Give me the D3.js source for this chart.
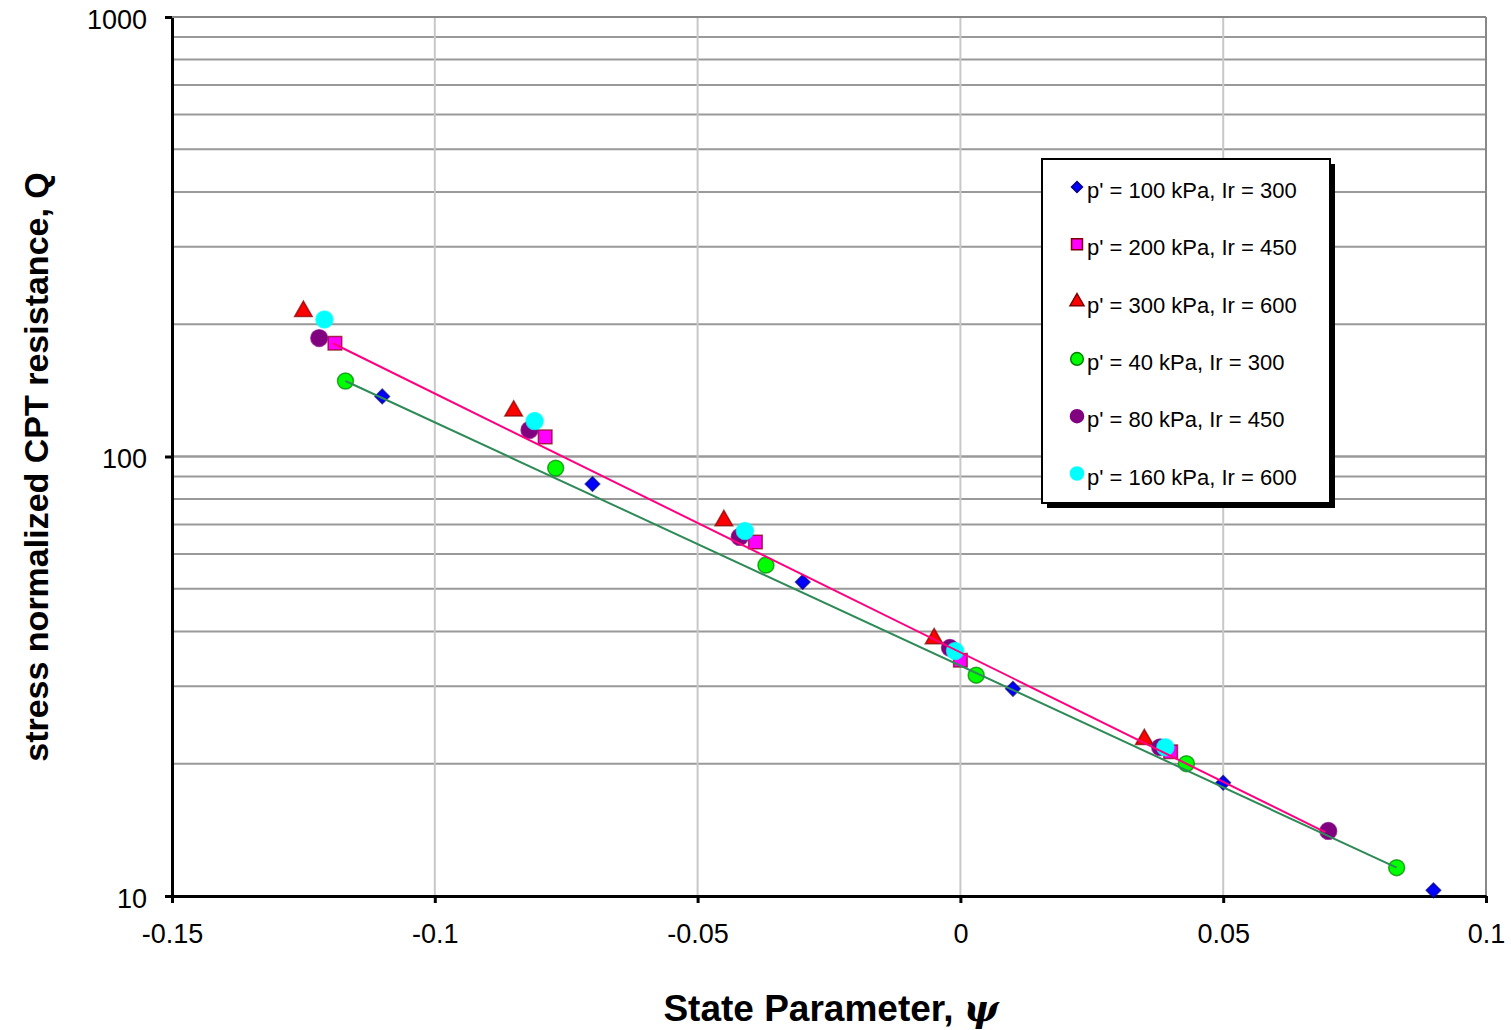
<!DOCTYPE html>
<html>
<head>
<meta charset="utf-8">
<script src="https://cdn.jsdelivr.net/npm/d3@7"></script>
<style>
  body { margin: 0; background: #fff; }
  text { font-family: "Liberation Sans", Arial, sans-serif; }
</style>
</head>
<body>
<div class="chart-container"></div>
<script>
// 各系列資料 (psi, Q)
const psi_100_300 = [-0.11, -0.07, -0.03, 0.01, 0.05, 0.09];
const q_100_300 = [137, 86.6, 51.8, 29.6, 18.1, 10.3];

const psi_200_450 = [-0.119, -0.079, -0.039, 0.0, 0.04];
const q_200_450 = [181, 110.8, 63.9, 34.4, 21.3];

const psi_300_600 = [-0.125, -0.085, -0.045, -0.005, 0.035];
const q_300_600 = [214, 127, 71.5, 38.5, 22.7];

const psi_40_300 = [-0.117, -0.077, -0.037, 0.003, 0.043, 0.083];
const q_40_300 = [148.5, 94.1, 56.6, 31.8, 20.0, 11.6];

const psi_80_450 = [-0.122, -0.082, -0.042, -0.002, 0.038, 0.07];
const q_80_450 = [186, 114.9, 65.6, 36.7, 21.8, 14.06];

const psi_160_600 = [-0.121, -0.081, -0.041, -0.001, 0.039];
const q_160_600 = [205, 120.4, 67.7, 36.1, 21.8];

// 趨勢線端點 (對數軸上為直線)
const trendPinkPsi = [-0.1194, 0.0694];
const trendPinkQ = [181, 13.98];
const trendGreenPsi = [-0.117, 0.083];
const trendGreenQ = [148.5, 11.6];

const seriesNames = [
  "p' = 100 kPa, Ir = 300",
  "p' = 200 kPa, Ir = 450",
  "p' = 300 kPa, Ir = 600",
  "p' = 40 kPa, Ir = 300",
  "p' = 80 kPa, Ir = 450",
  "p' = 160 kPa, Ir = 600"
];

const xTicks = [-0.15, -0.1, -0.05, 0, 0.05, 0.1];
const yTicks = [10, 100, 1000];

(function(){
  const svg_width = 1511;
  const svg_height = 1030;
  const margin = { top: 17, right: 25, bottom: 134, left: 172 };
  const chart_width = svg_width - margin.left - margin.right;   // 1314
  const chart_height = svg_height - margin.top - margin.bottom; // 879

  // 菱形 = 正方形旋轉45度
  const series = [
    { name: seriesNames[0], psi: psi_100_300, q: q_100_300, symbol: d3.symbolSquare, rot: 45, size: 105, legendSize: 60, fill: '#0000ff', stroke: '#000080' },
    { name: seriesNames[1], psi: psi_200_450, q: q_200_450, symbol: d3.symbolSquare, rot: 0, size: 185, legendSize: 120, fill: '#ff00ff', stroke: '#800000' },
    { name: seriesNames[2], psi: psi_300_600, q: q_300_600, symbol: d3.symbolTriangle, rot: 0, size: 135, legendSize: 85, fill: '#ff0000', stroke: '#800000' },
    { name: seriesNames[3], psi: psi_40_300, q: q_40_300, symbol: d3.symbolCircle, rot: 0, size: 200, legendSize: 125, fill: '#00ff00', stroke: '#008000' },
    { name: seriesNames[4], psi: psi_80_450, q: q_80_450, symbol: d3.symbolCircle, rot: 0, size: 220, legendSize: 135, fill: '#800080', stroke: '#800080' },
    { name: seriesNames[5], psi: psi_160_600, q: q_160_600, symbol: d3.symbolCircle, rot: 0, size: 230, legendSize: 135, fill: '#00ffff', stroke: '#00ffff' }
  ];

  const trends = [
    { psi: trendPinkPsi, q: trendPinkQ, color: '#ff0080' },
    { psi: trendGreenPsi, q: trendGreenQ, color: '#2e8b57' }
  ];

  const svg = d3.select('.chart-container').append('svg')
    .attr('width', svg_width).attr('height', svg_height);
  const g = svg.append('g').attr('transform', `translate(${margin.left},${margin.top})`);

  const xScale = d3.scaleLinear().domain([-0.15, 0.1]).range([0, chart_width]);
  const yScale = d3.scaleLog().domain([10, 1000]).range([chart_height, 0]);

  // 水平格線 (對數次刻度)
  const minorTicks = [];
  for (let dec = 10; dec < 1000; dec *= 10) {
    for (let k = 1; k <= 10; k++) minorTicks.push(dec * k);
  }
  g.append('g').selectAll('line').data(minorTicks.filter(d => d > 10)).enter()
    .append('line')
    .attr('x1', 0).attr('x2', chart_width)
    .attr('y1', d => yScale(d)).attr('y2', d => yScale(d))
    .style('stroke', '#999').style('stroke-width', 2);

  // 垂直格線
  g.append('g').selectAll('line').data(xTicks.filter(d => d > -0.15)).enter()
    .append('line')
    .attr('x1', d => xScale(d)).attr('x2', d => xScale(d))
    .attr('y1', 0).attr('y2', chart_height)
    .style('stroke', d => d === 0.1 ? '#888' : '#c8c8c8').style('stroke-width', 2);

  // X axis (用一般減號)
  const xAxis = d3.axisBottom(xScale).tickValues(xTicks)
    .tickFormat(d => String(d)).tickSize(7).tickSizeOuter(0).tickPadding(21);
  const xg = g.append('g').attr('transform', `translate(0,${chart_height})`).call(xAxis);
  xg.select('.domain').style('stroke', '#000').style('stroke-width', 3);
  xg.selectAll('.tick line').style('stroke', '#000').style('stroke-width', 3);
  xg.selectAll('.tick text').style('font-size', '27px').style('fill', '#000')
    .style('font-family', '"Liberation Sans", Arial, sans-serif');

  // Y axis
  const yAxis = d3.axisLeft(yScale).tickValues(yTicks)
    .tickFormat(d3.format('d')).tickSize(7).tickSizeOuter(0).tickPadding(18);
  const yg = g.append('g').call(yAxis);
  yg.select('.domain').style('stroke', '#000').style('stroke-width', 3);
  yg.selectAll('.tick line').style('stroke', '#000').style('stroke-width', 3);
  yg.selectAll('.tick text').style('font-size', '27px').style('fill', '#000')
    .style('font-family', '"Liberation Sans", Arial, sans-serif')
    .attr('dy', '0.42em');

  // 資料點
  const pts = g.append('g').attr('class', 'points');
  series.forEach(s => {
    pts.append('g').selectAll('path').data(s.psi.map((p, i) => ({ p: p, q: s.q[i] }))).enter()
      .append('path')
      .attr('d', d3.symbol().type(s.symbol).size(s.size))
      .attr('transform', d => `translate(${xScale(d.p)},${yScale(d.q)}) rotate(${s.rot})`)
      .style('fill', s.fill)
      .style('stroke', s.stroke)
      .style('stroke-width', 1.5)
      .style('stroke-opacity', 0.7);
  });

  // 趨勢線
  const lineGen = d3.line().x(d => xScale(d.p)).y(d => yScale(d.q));
  g.append('g').selectAll('path').data(trends).enter()
    .append('path')
    .attr('d', t => lineGen(t.psi.map((p, i) => ({ p: p, q: t.q[i] }))))
    .style('fill', 'none')
    .style('stroke', t => t.color)
    .style('stroke-width', 2);

  // 上框線
  g.append('line').attr('x1', 0).attr('x2', chart_width).attr('y1', 0).attr('y2', 0)
    .style('stroke', '#888').style('stroke-width', 2);

  // Legend
  const lx = 1042, ly = 159, lw = 288, lh = 344;
  svg.append('rect').attr('x', lx + 5).attr('y', ly + 5).attr('width', lw).attr('height', lh)
    .style('fill', '#000');
  svg.append('rect').attr('x', lx).attr('y', ly).attr('width', lw).attr('height', lh)
    .style('fill', '#fff').style('stroke', '#000').style('stroke-width', 2);
  const legendItems = svg.append('g').selectAll('g').data(series).enter()
    .append('g')
    .attr('transform', (d, i) => `translate(${lx + 35},${ly + 30 + i * 57.3})`);
  legendItems.append('path')
    .attr('d', d => d3.symbol().type(d.symbol).size(d.legendSize)())
    .attr('transform', d => `translate(0,-2) rotate(${d.rot})`)
    .style('fill', d => d.fill)
    .style('stroke', d => d.stroke)
    .style('stroke-width', 1.5);
  legendItems.append('text')
    .attr('x', 10).attr('y', 9)
    .text(d => d.name)
    .style('font-size', '22px').style('fill', '#000');

  // Axis titles
  const xt = svg.append('text')
    .attr('x', 831).attr('y', 1021)
    .style('text-anchor', 'middle')
    .style('font-size', '37px').style('font-weight', 'bold').style('fill', '#000');
  xt.append('tspan').text('State Parameter,  ');
  xt.append('tspan').text('ψ')
    .style('font-family', '"DejaVu Serif", "Liberation Serif", serif')
    .style('font-style', 'italic');

  svg.append('text')
    .attr('transform', 'translate(48,467) rotate(-90)')
    .style('text-anchor', 'middle')
    .style('font-size', '34px').style('font-weight', 'bold').style('fill', '#000')
    .text('stress normalized CPT resistance, Q');
})();
</script>
</body>
</html>
